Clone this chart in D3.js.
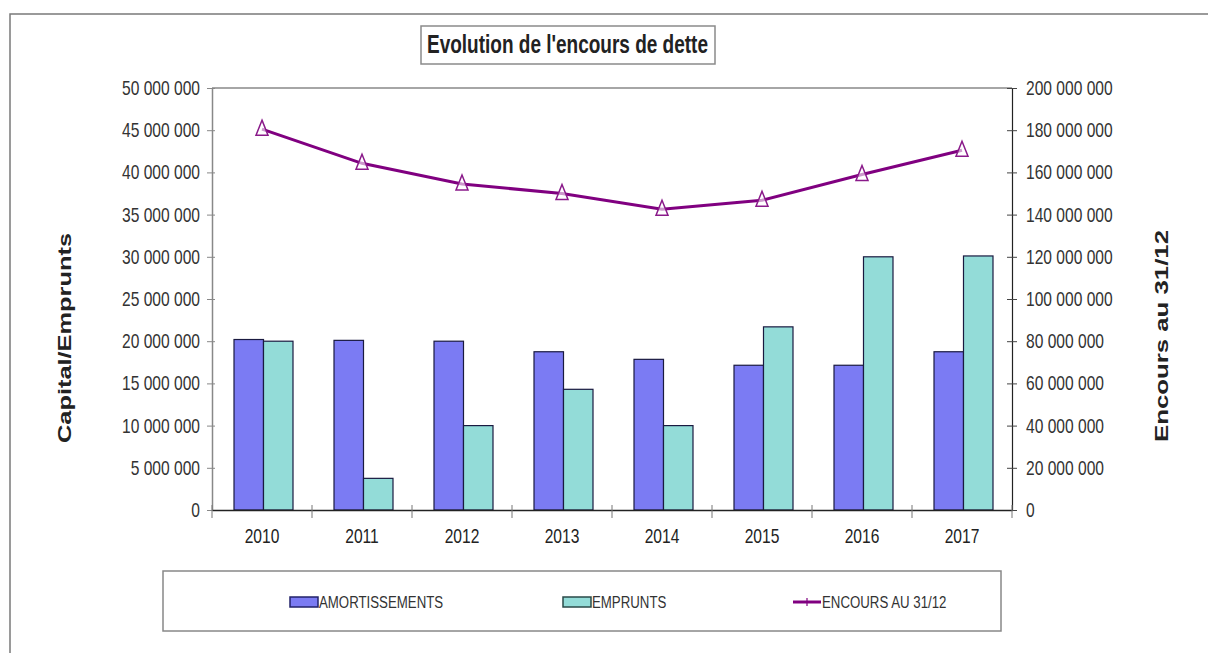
<!DOCTYPE html>
<html>
<head>
<meta charset="utf-8">
<script src="https://cdn.jsdelivr.net/npm/d3@7"></script>
<style>
  body { margin: 0; background: #fff; }
  svg { display: block; }
  text { font-family: "Liberation Sans", Arial, sans-serif; }
</style>
</head>
<body>
<svg id="chart" width="1208" height="653"></svg>
<script>
// data
var years = ["2010", "2011", "2012", "2013", "2014", "2015", "2016", "2017"];
var amortissements = [20200000, 20100000, 20000000, 18750000, 17850000, 17150000, 17150000, 18750000];
var emprunts = [20000000, 3750000, 10000000, 14300000, 10000000, 21700000, 30000000, 30100000];
var encours = [180500000, 164300000, 154500000, 150000000, 142500000, 146800000, 159000000, 170500000];
var leftTicks = [0, 5000000, 10000000, 15000000, 20000000, 25000000, 30000000, 35000000, 40000000, 45000000, 50000000];
var rightTicks = [0, 20000000, 40000000, 60000000, 80000000, 100000000, 120000000, 140000000, 160000000, 180000000, 200000000];
var keys = ["amort", "empr"];
var legendLabels = ["AMORTISSEMENTS", "EMPRUNTS", "ENCOURS AU 31/12"];

var colors = { amort: "#7b7bf3", empr: "#93dcd8", line: "#800080" };

var svg = d3.select("#chart");
var pL = 212, pR = 1012, pT = 88, pB = 510;
var SX = 0.78; // the picture's text is squeezed sideways

var fr = d3.formatLocale({ decimal: ",", thousands: " ", grouping: [3], currency: ["", ""] });
var fmt = fr.format(",d");

// squeeze a text sideways, keeping its anchor point at x
function squash(sel, x) {
  sel.attr("x", x / SX).attr("transform", "scale(" + SX + ",1)");
}

// outer frame
svg.append("rect")
  .attr("x", 10).attr("y", 14).attr("width", 1220).attr("height", 680)
  .attr("fill", "#fff").attr("stroke", "#7a7a7a").attr("stroke-width", 1.5);

// title box
svg.append("rect")
  .attr("x", 421).attr("y", 26).attr("width", 294).attr("height", 38)
  .attr("fill", "#fff").attr("stroke", "#8a8a8a").attr("stroke-width", 1.5);
svg.append("text")
  .attr("x", 427).attr("y", 53)
  .attr("font-size", 25).attr("font-weight", "bold").attr("fill", "#222")
  .attr("textLength", 281).attr("lengthAdjust", "spacingAndGlyphs")
  .text("Evolution de l'encours de dette");

var x0 = d3.scaleBand().domain(years).range([pL, pR]).padding(0);
var x1 = d3.scaleBand().domain(keys).range([22, 81]).padding(0);
var yL = d3.scaleLinear().domain([0, 50000000]).range([pB, pT]);
var yR = d3.scaleLinear().domain([0, 200000000]).range([pB, pT]);

var g = svg.append("g");

// plot top border
g.append("line").attr("x1", pL).attr("x2", pR).attr("y1", pT).attr("y2", pT)
  .attr("stroke", "#888").attr("stroke-width", 1.5);

// bars
var rows = years.map(function(y, i) { return { year: y, amort: amortissements[i], empr: emprunts[i] }; });
g.append("g").selectAll("g").data(rows).enter().append("g")
  .attr("transform", function(d) { return "translate(" + x0(d.year) + ",0)"; })
  .selectAll("rect")
  .data(function(d) { return keys.map(function(k) { return { key: k, value: d[k] }; }); })
  .enter().append("rect")
    .attr("x", function(d) { return x1(d.key); })
    .attr("y", function(d) { return yL(d.value); })
    .attr("width", x1.bandwidth())
    .attr("height", function(d) { return pB - yL(d.value); })
    .attr("fill", function(d) { return colors[d.key]; })
    .attr("stroke", "#1a1a40").attr("stroke-width", 1.2);

// left axis
var axL = g.append("g").attr("transform", "translate(" + pL + ",0)")
  .call(d3.axisLeft(yL).tickValues(leftTicks).tickFormat(fmt).tickSize(0));
axL.select(".domain").attr("stroke", "#888").attr("stroke-width", 1.5);
axL.selectAll(".tick line").attr("x1", -5).attr("x2", 3).attr("stroke", "#888");
axL.selectAll("text").attr("font-size", 20).attr("fill", "#333").call(squash, -12);

// right axis
var axR = g.append("g").attr("transform", "translate(" + pR + ",0)")
  .call(d3.axisRight(yR).tickValues(rightTicks).tickFormat(fmt).tickSize(0));
axR.select(".domain").attr("stroke", "#222").attr("stroke-width", 1.2);
axR.selectAll(".tick line").attr("x1", -5).attr("x2", 5).attr("stroke", "#444");
axR.selectAll("text").attr("font-size", 20).attr("fill", "#333").call(squash, 14);

// bottom axis
var axB = g.append("g").attr("transform", "translate(0," + pB + ")")
  .call(d3.axisBottom(x0).tickSize(0));
axB.select(".domain").attr("stroke", "#222").attr("stroke-width", 1.5);
axB.selectAll(".tick text").attr("font-size", 20).attr("fill", "#222")
  .attr("y", 33).attr("dy", null).call(squash, 0);
axB.selectAll(".sep").data(years.concat(["end"])).enter().append("line")
  .attr("class", "sep")
  .attr("x1", function(d, i) { return pL + i * x0.step(); })
  .attr("x2", function(d, i) { return pL + i * x0.step(); })
  .attr("y1", -5).attr("y2", 8)
  .attr("stroke", "#777");

// line (right axis)
var pts = years.map(function(y, i) { return [x0(y) + x0.bandwidth() / 2, yR(encours[i])]; });
g.append("path").datum(pts)
  .attr("d", d3.line())
  .attr("fill", "none").attr("stroke", colors.line).attr("stroke-width", 3);
g.selectAll(".mark").data(pts).enter().append("path")
  .attr("class", "mark")
  .attr("transform", function(d) { return "translate(" + d[0] + "," + d[1] + ")"; })
  .attr("d", "M0,-9L6,6L-6,6Z")
  .attr("fill", "#fff").attr("fill-opacity", 0.6)
  .attr("stroke", "#8a1a8a").attr("stroke-width", 1.5);

// axis titles
svg.append("text")
  .attr("transform", "translate(71,338) rotate(-90)")
  .attr("text-anchor", "middle")
  .attr("font-size", 18).attr("font-weight", "bold").attr("fill", "#222")
  .attr("textLength", 210).attr("lengthAdjust", "spacingAndGlyphs")
  .text("Capital/Emprunts");
svg.append("text")
  .attr("transform", "translate(1168,336) rotate(-90)")
  .attr("text-anchor", "middle")
  .attr("font-size", 18).attr("font-weight", "bold").attr("fill", "#222")
  .attr("textLength", 212).attr("lengthAdjust", "spacingAndGlyphs")
  .text("Encours au 31/12");

// legend
svg.append("rect")
  .attr("x", 163).attr("y", 571).attr("width", 838).attr("height", 60)
  .attr("fill", "#fff").attr("stroke", "#888").attr("stroke-width", 1.5);
var legX = [290, 563, 793];
var lg = svg.append("g").selectAll("g").data(legendLabels).enter().append("g")
  .attr("transform", function(d, i) { return "translate(" + legX[i] + ",602)"; });
lg.each(function(d, i) {
  var s = d3.select(this);
  if (i < 2) {
    s.append("rect").attr("x", 0).attr("y", -5).attr("width", 28).attr("height", 10)
      .attr("fill", colors[keys[i]]).attr("stroke", i === 0 ? "#22226a" : "#2a4a48").attr("stroke-width", 1.5);
  } else {
    s.append("line").attr("x1", 0).attr("x2", 28).attr("y1", 0).attr("y2", 0)
      .attr("stroke", colors.line).attr("stroke-width", 3);
    s.append("line").attr("x1", 14).attr("x2", 14).attr("y1", -4).attr("y2", 4)
      .attr("stroke", colors.line).attr("stroke-width", 1.2);
  }
  s.append("text").attr("y", 6)
    .attr("font-size", 17).attr("fill", "#333").text(d).call(squash, 29);
});
</script>
</body>
</html>
